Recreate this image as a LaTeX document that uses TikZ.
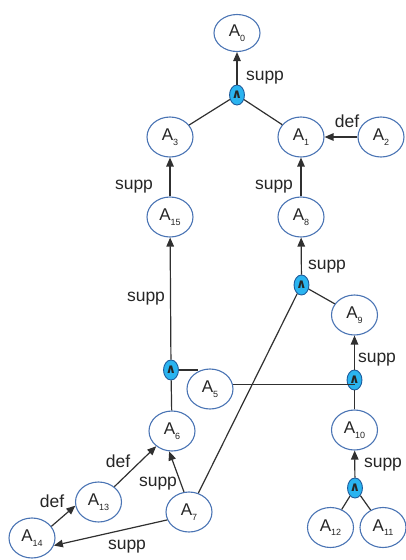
\documentclass[tikz,border=0pt]{standalone}
\usepackage{fontspec}
\setmainfont{Liberation Sans}
\newfontfamily\dejavu{DejaVu Sans}
\usetikzlibrary{shapes.geometric,arrows.meta}
\definecolor{nodeblue}{HTML}{4A74B4}
\definecolor{andfill}{HTML}{2AB4F0}
\definecolor{andborder}{HTML}{1F5C9C}
\definecolor{edgegray}{HTML}{303030}
\newcommand\Asub[1]{\fontsize{17}{18}\selectfont A\raisebox{-4.5pt}{\fontsize{9}{9}\selectfont #1}}
\tikzset{
  arg/.style={ellipse, draw=nodeblue, line width=1.1pt, fill=white, minimum width=46pt, minimum height=40pt, inner sep=0pt, text=black!85},
  andnode/.style={ellipse, draw=andborder, line width=0.9pt, fill=andfill, minimum width=12pt, minimum height=20pt, inner sep=0pt, font=\dejavu\bfseries\fontsize{13}{13}\selectfont, text=black!85},
  lbl/.style={font=\fontsize{17.5}{19}\selectfont, text=black!85, inner sep=0pt},
  edge/.style={draw=edgegray, line width=1.2pt},
  arr/.style={edge, -{Triangle[length=9pt,width=7.5pt]}},
}
\begin{document}
\begin{tikzpicture}[x=1pt,y=-1pt]
\useasboundingbox (0,0) rectangle (406,560);
% nodes
\node[arg, minimum height=37pt] (A0) at (237,33) {\Asub{0}};
\node[andnode] (andT) at (237,95) {∧};
\node[arg] (A3) at (170,137) {\Asub{3}};
\node[arg] (A1) at (301,137) {\Asub{1}};
\node[arg] (A2) at (381,137) {\Asub{2}};
\node[arg] (A15) at (170,217) {\Asub{15}};
\node[arg] (A8) at (301,217) {\Asub{8}};
\node[andnode] (andR) at (301.5,285) {∧};
\node[arg] (A9) at (354.5,315) {\Asub{9}};
\node[andnode] (and5) at (171,370) {∧};
\node[arg] (A5) at (210,389) {\Asub{5}};
\node[andnode] (and3) at (354.5,380) {∧};
\node[arg] (A6) at (172,431) {\Asub{6}};
\node[arg] (A10) at (354.5,430) {\Asub{10}};
\node[andnode] (andB) at (355,488) {∧};
\node[arg] (A13) at (98.5,502) {\Asub{13}};
\node[arg] (A7) at (189,512) {\Asub{7}};
\node[arg] (A14) at (32,538) {\Asub{14}};
\node[arg] (A12) at (330.5,527.5) {\Asub{12}};
\node[arg] (A11) at (383,527.5) {\Asub{11}};
% edges
\draw[arr] (andT) -- (A0);
\draw[edge] (A3) -- (andT);
\draw[edge] (A1) -- (andT);
\draw[arr] (A2) -- (A1);
\draw[arr] (A15) -- (A3);
\draw[arr] (A8) -- (A1);
\draw[arr] (andR) -- (A8);
\draw[edge] (A9) -- (andR);
\draw[edge] (A7) -- (andR);
\draw[arr] (and5) -- (A15);
\draw[edge] (A6) -- (and5);
\draw[edge] (and5.east) -- (and5.east -| A5.125);
\draw[arr] (and3) -- (A9);
\draw[edge] (A10) -- (and3);
\draw[edge] (A5.12) -- (A5.12 -| and3.center);
\draw[arr] (andB) -- (A10);
\draw[edge] (A12) -- (andB);
\draw[edge] (A11) -- (andB);
\draw[arr] (A13) -- (A6);
\draw[arr] (A7.104) -- (A6.262);
\draw[arr] (A14.31) -- (A13.189);
\draw[arr] (A7.200) -- (A14.-19);
% labels
\node[lbl] (l1) at (265,78) {supp};
\node[lbl] (l2) at (347,121) {def};
\node[lbl] (l3) at (134,187) {supp};
\node[lbl] (l4) at (274,187) {supp};
\node[lbl] (l5) at (327,267) {supp};
\node[lbl] (l6) at (146,299) {supp};
\node[lbl] (l7) at (377,360) {supp};
\node[lbl] (l8) at (383,465) {supp};
\node[lbl] (l9) at (118,461) {def};
\node[lbl] (l10) at (158,484) {supp};
\node[lbl] (l11) at (52,501) {def};
\node[lbl] (l12) at (127,547) {supp};
\end{tikzpicture}
\end{document}
